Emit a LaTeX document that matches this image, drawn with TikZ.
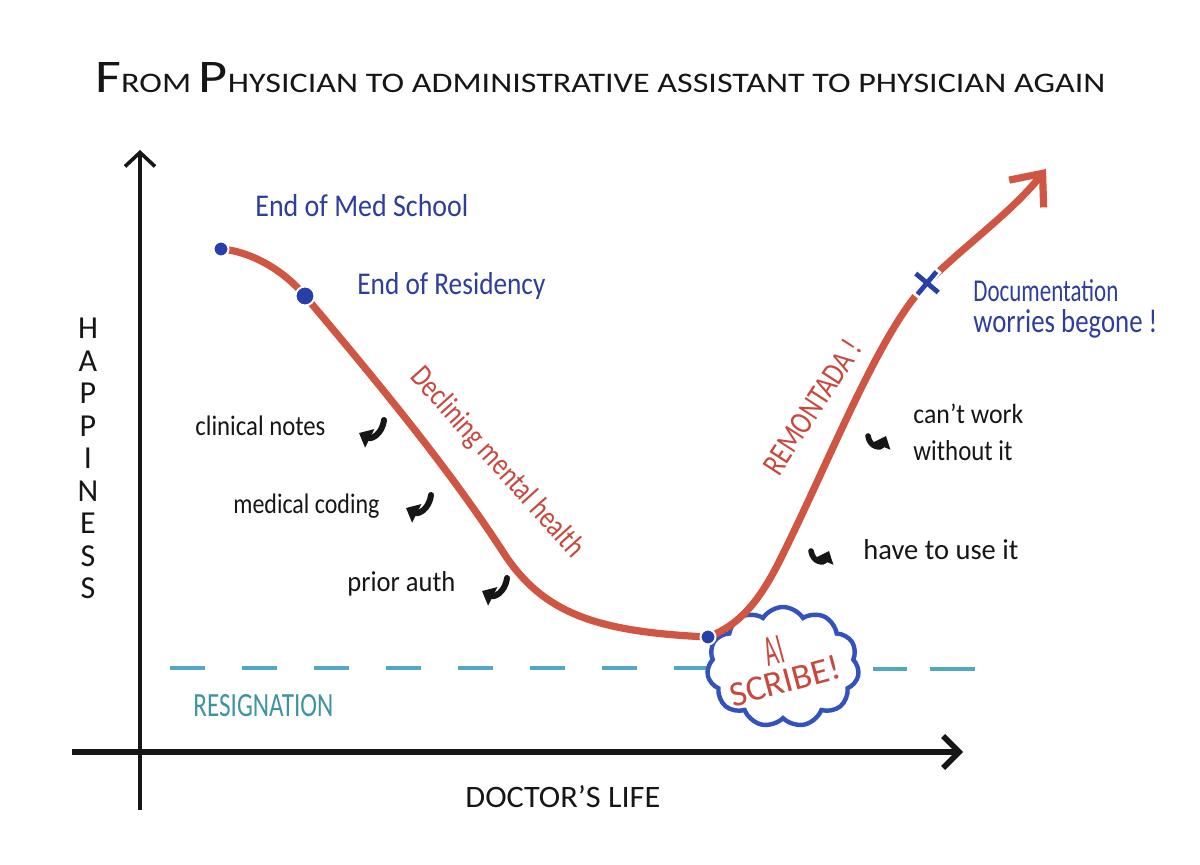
\documentclass[tikz,border=0pt]{standalone}
\usepackage{fontspec}
\setmainfont{Carlito}
\usepackage{graphicx}
\usetikzlibrary{arrows.meta,shapes.symbols,shapes.misc}
\definecolor{curvered}{RGB}{207,86,66}
\definecolor{txtred}{RGB}{200,72,62}
\definecolor{txtblue}{RGB}{45,62,155}
\definecolor{dotblue}{RGB}{40,62,170}
\definecolor{cloudblue}{RGB}{52,82,190}
\definecolor{dashcyan}{RGB}{80,168,195}
\definecolor{tealtext}{RGB}{62,148,160}
\definecolor{ink}{RGB}{22,22,22}
\newcommand\fitbox[3]{\resizebox{#1}{#2}{#3}}
\newcommand\smc[1]{{\fontsize{10}{10}\selectfont\MakeUppercase{#1}}}
\newcommand\bgc[1]{{\fontsize{16.5}{16.5}\selectfont #1}}
\begin{document}
\begin{tikzpicture}[x=0.5pt,y=-0.5pt,
  lbl/.style={inner sep=0pt, anchor=base west},
  bluelabel/.style={lbl, text=txtblue},
  note/.style={lbl, text=ink},
  yaxis/.style={draw=ink, line width=1.8pt, -{Straight Barb[length=7pt,width=15pt]}},
  xaxis/.style={draw=ink, line width=2.8pt, -{Straight Barb[length=8pt,width=16pt]}},
  life/.style={draw=curvered, line width=3.6pt, line cap=round, line join=round},
  dotmark/.style={circle, fill=dotblue, draw=white, line width=1pt, inner sep=0pt},
  rednote/.style={inner sep=0pt, text=txtred},
  pics/larr/.style={code={\draw[ink, line width=3pt, line cap=round, -{Triangle[length=6pt,width=10pt]}] (17,-10) .. controls (15,5) and (4,9) .. (-8,3);}},
  pics/rarr/.style={code={\draw[ink, line width=2.8pt, line cap=round, -{Triangle[length=5.5pt,width=9pt]}] (-10,-4) .. controls (-8,8) and (3,8) .. (8,-4);}},
]
\path[use as bounding box, fill=white] (0,0) rectangle (1200,865);

% title
\node[lbl, text=ink] (title) at (95,93) {\fitbox{505pt}{15pt}{\bgc{F}\smc{rom} \bgc{P}\smc{hysician to administrative assistant to physician again}}};

% axes
\coordinate (yb) at (140,810);
\coordinate (yt) at (140,150);
\coordinate (xl) at (72,752);
\coordinate (xr) at (963,752);
\draw[yaxis] (yb) -- (yt);
\draw[xaxis] (xl) -- (xr);

% resignation line
\coordinate (rl) at (170,668);
\coordinate (rm) at (712,668);
\coordinate (rn) at (873,669);
\coordinate (rr) at (975,669);
\draw[dashcyan, line width=2pt, dash pattern=on 17.5pt off 18.5pt] (rl) -- (rm);
\draw[dashcyan, line width=2pt, dash pattern=on 17pt off 11.5pt on 22.5pt off 5pt] (rn) -- (rr);

% cloud
\node[cloud, cloud puffs=11, cloud puff arc=115, aspect=1.25, draw=cloudblue, fill=white, line width=2.2pt, minimum width=76pt, minimum height=60pt, inner sep=0pt] (cloud) at (783,667) {};
\node[rednote, rotate=15] (ai) at (774,651) {\fitbox{9pt}{14pt}{AI}};
\node[rednote, rotate=15] (scribe) at (785,681) {\fitbox{57pt}{12pt}{SCRIBE!}};

% curve
\coordinate (ms) at (221,249);
\coordinate (res) at (305,296);
\coordinate (low) at (708,637);
\coordinate (doc) at (927,283);
\coordinate (tip) at (1046,169);
\draw[life, -{Straight Barb[length=13pt,width=22pt]}]
  (ms) .. controls (248,251) and (282,268) .. (res)
       .. controls (380,385) and (450,470) .. (505,555)
       .. controls (545,615) and (600,632) .. (low)
       .. controls (740,625) and (760,600) .. (780,560)
       .. controls (830,460) and (880,330) .. (doc)
       .. controls (965,245) and (1012,212) .. (tip);

\node[dotmark, minimum size=7.5pt] (msdot) at (ms) {};
\node[dotmark, minimum size=9.5pt] (resdot) at (res) {};
\node[dotmark, minimum size=7.5pt] (lowdot) at (low) {};
\node[cross out, draw=white, line width=4.5pt, minimum size=8pt, inner sep=0pt, rotate=5] (docgap) at (doc) {};
\node[cross out, draw=dotblue, line width=2.4pt, minimum size=8pt, inner sep=0pt, rotate=5] (docx) at (doc) {};

% blue labels
\node[bluelabel] (lms) at (255,217) {\fitbox{106.5pt}{11pt}{End of Med School}};
\node[bluelabel] (lres) at (357,295) {\fitbox{94pt}{11pt}{End of Residency}};
\node[bluelabel] (ldoca) at (973,302) {\fitbox{72.5pt}{11pt}{Documentation}};
\node[bluelabel] (ldocb) at (973,333) {\fitbox{92pt}{11.5pt}{worries begone !}};

% red labels
\node[rednote, rotate=-48] (decl) at (497,463) {\fitbox{122pt}{11pt}{Declining mental health}};
\node[rednote, rotate=57] (remo) at (812,407) {\fitbox{77pt}{11pt}{REMONTADA !}};

% notes
\node[note] (na) at (195,436) {\fitbox{65pt}{9.8pt}{clinical notes}};
\node[note] (nb) at (233,514) {\fitbox{73pt}{9.8pt}{medical coding}};
\node[note] (nc) at (347,592) {\fitbox{54pt}{10pt}{prior auth}};
\node[note] (nd) at (913,424) {\fitbox{55pt}{9.8pt}{can't work}};
\node[note] (ne) at (913,461) {\fitbox{49.5pt}{10pt}{without it}};
\node[note] (nf) at (863,560) {\fitbox{77.5pt}{10pt}{have to use it}};
\pic at (367,430) {larr};
\pic at (414,505) {larr};
\pic at (490,588) {larr};
\pic at (878,440) {rarr};
\pic at (821,555) {rarr};

% axis labels
\node[inner sep=0pt, text=ink, align=center, font=\fontsize{16}{16.25}\selectfont, anchor=north] (happy) at (88,318) {H\\A\\P\\P\\I\\N\\E\\S\\S};
\node[lbl, text=tealtext] (resig) at (193,717) {\fitbox{70pt}{11pt}{RESIGNATION}};
\node[lbl, text=ink] (xlab) at (465,807) {\fitbox{97.5pt}{11pt}{DOCTOR'S LIFE}};
\end{tikzpicture}
\end{document}
